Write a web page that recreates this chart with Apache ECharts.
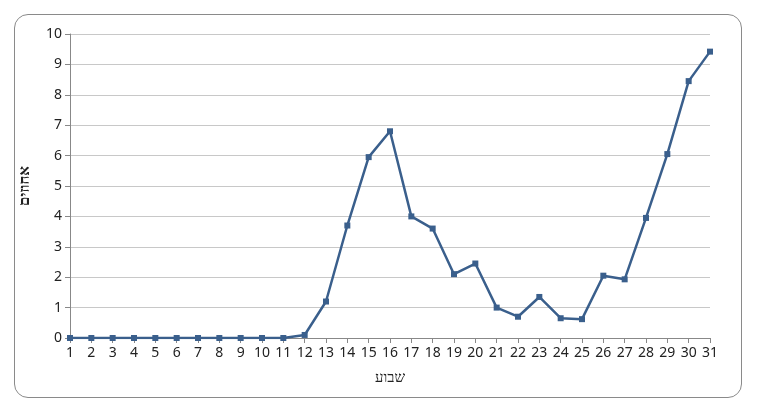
<!DOCTYPE html>
<html>
<head>
<meta charset="utf-8">
<script src="https://cdn.jsdelivr.net/npm/echarts@6/dist/echarts.min.js"></script>
<style>
  body { margin: 0; background: #fff; }
  #frame { position: absolute; left: 14px; top: 14px; width: 726px; height: 382px; border: 1.5px solid #8a8a8a; border-radius: 14px; }
  #chart { position: absolute; left: 0; top: 0; width: 758px; height: 415px; }
</style>
</head>
<body>
<div id="frame"></div>
<div id="chart"></div>
<script>
const weeks = [];
for (let i = 1; i <= 31; i++) weeks.push(String(i));
const percents = [0, 0, 0, 0, 0, 0, 0, 0, 0, 0, 0, 0.1, 1.2, 3.7, 5.95, 6.8, 4.0, 3.6, 2.1, 2.45,
  1.0, 0.7, 1.35, 0.65, 0.62, 2.05, 1.93, 3.95, 6.05, 8.45, 9.42];

const chart = echarts.init(document.getElementById("chart"));
chart.setOption({
  animation: false,
  grid: { left: 70, right: 48, top: 34, bottom: 77 },
  xAxis: {
    type: "category",
    data: weeks,
    boundaryGap: false,
    name: "שבוע",
    nameLocation: "middle",
    nameGap: 32,
    nameTextStyle: { fontSize: 15, color: "#222", fontFamily: "Noto Sans" },
    axisLine: { lineStyle: { color: "#888" } },
    axisTick: { show: true, alignWithLabel: true, lineStyle: { color: "#888" } },
    axisLabel: { color: "#222", fontSize: 14, interval: 0, fontFamily: "Noto Sans" }
  },
  yAxis: {
    type: "value",
    min: 0,
    max: 10,
    interval: 1,
    name: "אחוזים",
    nameLocation: "middle",
    nameGap: 38,
    nameRotate: 90,
    nameTextStyle: { fontSize: 15, color: "#222", fontWeight: "bold", fontFamily: "Noto Sans" },
    axisLine: { show: true, lineStyle: { color: "#888" } },
    axisTick: { show: true, lineStyle: { color: "#888" } },
    axisLabel: { color: "#222", fontSize: 14, fontFamily: "Noto Sans" },
    splitLine: { lineStyle: { color: "#c8c8c8" } }
  },
  series: [{
    type: "line",
    data: percents,
    symbol: "rect",
    symbolSize: 6,
    lineStyle: { color: "#3a5f8c", width: 2.5 },
    itemStyle: { color: "#3a5f8c" }
  }]
});
</script>
</body>
</html>
